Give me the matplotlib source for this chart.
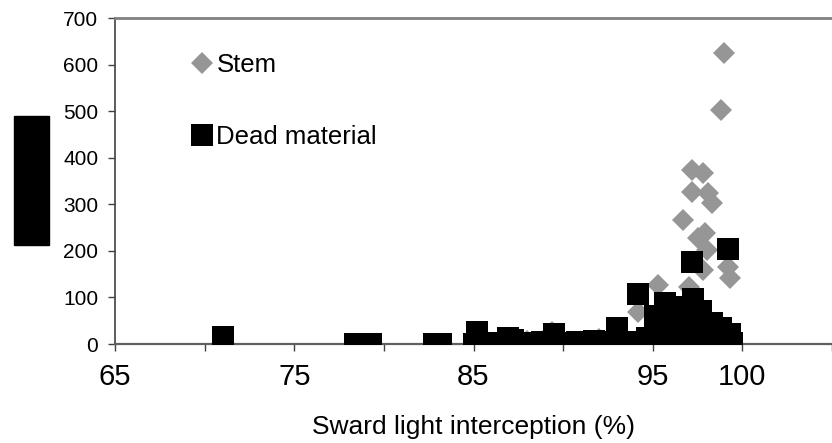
# ==================================================
# plot.py
# Stem / dead material vs sward light interception
# ==================================================
import matplotlib
matplotlib.use("Agg")
import matplotlib.pyplot as plt
from matplotlib.patches import Rectangle

# =========================
# 1 - Data
# =========================
stem_x = [71.0, 86.5, 88.0, 89.4, 92.0, 94.2, 95.3, 97.0, 96.7, 97.2,
          97.8, 97.2, 98.1, 98.3, 97.5, 97.9, 98.0, 97.8, 99.2, 99.3,
          99.0, 98.8, 95.5, 96.5, 98.5, 99.0]
stem_y = [5, 5, 6, 26, 10, 69, 127, 122, 266, 374,
          367, 326, 324, 303, 228, 238, 202, 159, 165, 142,
          625, 502, 40, 30, 40, 10]

dead_x = [71.0, 78.4, 79.3, 82.8, 83.2, 85.0, 85.2, 86.0, 86.3, 86.9,
          87.2, 87.7, 88.3, 88.8, 89.5, 90.0, 90.5, 90.8, 91.2, 91.7,
          92.2, 92.6, 93.0, 93.5, 94.0, 94.2, 94.7, 95.1, 95.7, 97.25,
          97.2, 99.2, 97.7, 98.3, 98.8, 99.3, 95.0, 95.4, 95.8, 96.2,
          96.6, 97.0, 97.4, 97.8, 98.2, 98.6, 99.0, 99.4, 95.5, 95.9,
          96.3, 96.7, 97.1, 97.5, 97.9, 98.4, 95.9, 96.3, 96.7, 97.1,
          97.5, 96.0, 96.5, 97.0]
dead_y = [14, 0, 0, 0, 0, 0, 26, 0, 2, 13,
          8, 2, 0, 5, 21, 3, 0, 4, 2, 6,
          3, 5, 34, 4, 0, 108, 13, 60, 88, 97,
          177, 204, 71, 45, 34, 21, 0, 0, 0, 0,
          0, 0, 0, 0, 0, 0, 0, 3, 22, 25,
          28, 30, 30, 30, 28, 26, 55, 58, 60, 60,
          58, 75, 80, 78]

x_ticks = [65, 70, 75, 80, 85, 90, 95, 100, 105]
x_tick_labels = ["65", "", "75", "", "85", "", "95", "100", ""]
y_ticks = [0, 100, 200, 300, 400, 500, 600, 700]

# =========================
# 2 - Figure
# =========================
plt.rcParams["font.family"] = ["Liberation Sans", "DejaVu Sans"]

fig = plt.figure(figsize=(8.32, 4.43), dpi=100)
ax = fig.add_axes([115 / 832, 1 - 344 / 443, 1 - 115 / 832, 326 / 443])

ax.plot(stem_x, stem_y, linestyle="none", marker="D", markersize=11.4,
        color="#969696", markeredgewidth=0, label="Stem", zorder=3)
ax.plot(dead_x, dead_y, linestyle="none", marker="s", markersize=15.5,
        color="black", markeredgewidth=0, label="Dead material", zorder=4)

ax.set_xlim(65, 65 + (832 - 115) / 18.06)
ax.set_ylim(0, 700)
ax.set_xticks(x_ticks)
ax.set_xticklabels(x_tick_labels)
ax.set_yticks(y_ticks)

ax.tick_params(axis="x", direction="out", length=5, width=1,
               color="#404040", labelsize=21, pad=9)
ax.tick_params(axis="y", direction="out", length=5, width=1,
               color="#404040", labelsize=15, pad=7)

# spines: gray plot-area border on top, axis lines left and bottom
ax.spines["top"].set_color("#808080")
ax.spines["top"].set_linewidth(2.0)
ax.spines["right"].set_visible(False)
ax.spines["left"].set_color("#404040")
ax.spines["left"].set_linewidth(1.2)
ax.spines["bottom"].set_color("#606060")
ax.spines["bottom"].set_linewidth(1.6)
for sp in ax.spines.values():
    sp.set_zorder(2)

ax.set_xlabel("Sward light interception (%)", fontsize=19, labelpad=17)

# =========================
# 3 - Legend inside the plot
# =========================
ax.legend(loc="upper left", bbox_to_anchor=(192 / 832, 1 - 53 / 443),
          bbox_transform=fig.transFigure, frameon=False, fontsize=18.5,
          handlelength=0.8, handletextpad=0.15, labelspacing=1.85,
          borderpad=0, borderaxespad=0)

# redacted y-axis label (black box)
fig.patches.append(Rectangle((14 / 832, 1 - 245 / 443), 35 / 832, 129 / 443,
                             transform=fig.transFigure, color="black"))

fig.savefig("out.png", dpi=100)
